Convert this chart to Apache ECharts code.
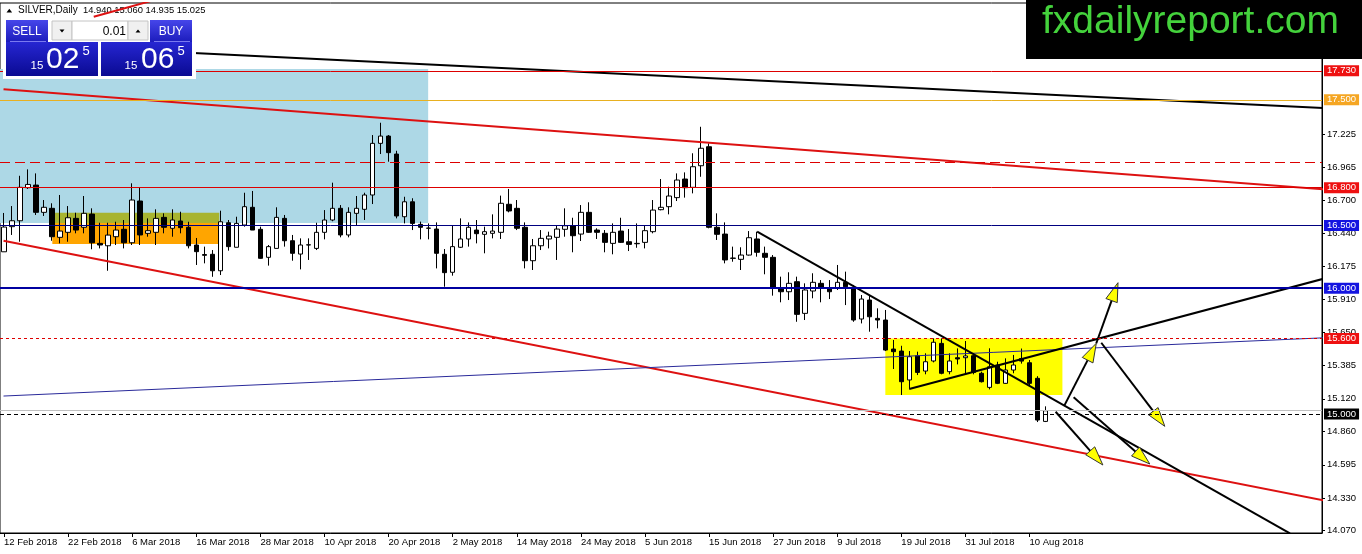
<!DOCTYPE html>
<html><head><meta charset="utf-8">
<script src="https://cdn.jsdelivr.net/npm/echarts@6/dist/echarts.min.js"></script>
<style>html,body{margin:0;padding:0;background:#fff}#c{width:1362px;height:554px}</style>
</head><body><div id="c"></div>
<script>
// ---------- data ----------
// [open, close, low, high] per daily bar, starting 12 Feb 2018
const candles = [
[16.290,16.487,16.290,16.599],[16.490,16.537,16.424,16.654],[16.537,16.803,16.370,16.895],[16.800,16.826,16.790,16.946],
[16.821,16.604,16.583,16.914],[16.604,16.644,16.575,16.702],[16.636,16.410,16.378,16.676],[16.405,16.455,16.357,16.742],
[16.445,16.561,16.370,16.654],[16.556,16.463,16.437,16.601],[16.485,16.596,16.437,16.734],[16.590,16.362,16.310,16.636],
[16.357,16.344,16.317,16.521],[16.338,16.423,16.139,16.521],[16.410,16.463,16.344,16.529],[16.469,16.362,16.317,16.543],
[16.362,16.702,16.344,16.835],[16.694,16.424,16.344,16.803],[16.437,16.458,16.410,16.556],[16.445,16.556,16.344,16.628],
[16.564,16.485,16.437,16.596],[16.477,16.543,16.410,16.628],[16.535,16.482,16.437,16.609],[16.485,16.338,16.317,16.529],
[16.344,16.291,16.185,16.400],[16.268,16.262,16.198,16.331],[16.270,16.139,16.091,16.304],[16.139,16.529,16.105,16.617],
[16.521,16.331,16.299,16.543],[16.326,16.516,16.326,16.569],[16.503,16.649,16.490,16.760],[16.644,16.463,16.463,16.774],
[16.469,16.238,16.235,16.490],[16.246,16.331,16.180,16.344],[16.317,16.564,16.317,16.644],[16.556,16.378,16.331,16.583],
[16.378,16.278,16.219,16.424],[16.272,16.344,16.150,16.397],[16.344,16.346,16.225,16.397],[16.317,16.445,16.304,16.521],
[16.445,16.543,16.389,16.622],[16.543,16.636,16.533,16.840],[16.636,16.424,16.405,16.662],[16.424,16.604,16.405,16.644],
[16.596,16.636,16.503,16.734],[16.628,16.742,16.543,16.760],[16.742,17.153,16.670,17.219],[17.153,17.211,17.068,17.317],
[17.211,17.079,17.007,17.219],[17.068,16.575,16.556,17.094],[16.569,16.688,16.516,16.728],[16.688,16.516,16.463,16.716],
[16.508,16.485,16.389,16.530],[16.477,16.479,16.389,16.516],[16.471,16.278,16.158,16.524],[16.270,16.124,16.012,16.312],
[16.127,16.331,16.100,16.497],[16.326,16.392,16.320,16.556],[16.392,16.485,16.331,16.524],[16.463,16.434,16.357,16.543],
[16.429,16.450,16.278,16.490],[16.437,16.455,16.397,16.588],[16.445,16.676,16.392,16.737],[16.668,16.615,16.604,16.790],
[16.636,16.477,16.463,16.702],[16.485,16.219,16.158,16.524],[16.219,16.338,16.145,16.392],[16.338,16.397,16.304,16.463],
[16.392,16.415,16.317,16.450],[16.405,16.471,16.225,16.503],[16.469,16.497,16.410,16.636],[16.497,16.418,16.286,16.561],
[16.431,16.604,16.376,16.662],[16.604,16.445,16.440,16.684],[16.463,16.445,16.392,16.477],[16.437,16.365,16.286,16.463],
[16.357,16.445,16.270,16.516],[16.455,16.365,16.360,16.561],[16.370,16.349,16.296,16.471],[16.354,16.357,16.322,16.516],
[16.365,16.458,16.317,16.503],[16.450,16.622,16.437,16.702],[16.625,16.644,16.620,16.869],[16.649,16.734,16.588,16.808],
[16.721,16.861,16.694,16.914],[16.869,16.800,16.721,16.922],[16.803,16.967,16.755,17.074],[16.975,17.114,16.887,17.285],
[17.126,16.485,16.477,17.153],[16.485,16.429,16.384,16.596],[16.431,16.225,16.198,16.524],[16.240,16.238,16.211,16.331],
[16.230,16.264,16.145,16.326],[16.264,16.402,16.260,16.455],[16.392,16.286,16.251,16.450],[16.278,16.246,16.111,16.331],
[16.246,16.000,15.941,16.264],[16.000,15.972,15.888,16.092],[15.972,16.039,15.906,16.127],[16.052,15.792,15.733,16.092],
[15.800,15.986,15.747,16.039],[15.978,16.047,15.920,16.119],[16.039,16.004,15.888,16.065],[16.004,15.972,15.914,16.065],
[16.004,16.047,15.986,16.185],[16.047,16.012,15.866,16.132],[16.000,15.747,15.733,16.026],[15.755,15.914,15.720,15.946],
[15.906,15.773,15.654,15.946],[15.760,15.747,15.681,15.840],[15.747,15.508,15.500,15.827],[15.516,15.495,15.357,15.588],
[15.500,15.256,15.150,15.542],[15.270,15.455,15.203,15.500],[15.463,15.330,15.309,15.495],[15.341,15.415,15.315,15.482],
[15.421,15.570,15.410,15.601],[15.561,15.323,15.315,15.601],[15.336,15.421,15.315,15.482],[15.447,15.437,15.394,15.521],
[15.447,15.461,15.315,15.580],[15.463,15.330,15.315,15.482],[15.323,15.256,15.250,15.336],[15.211,15.375,15.195,15.522],
[15.389,15.243,15.237,15.415],[15.243,15.349,15.240,15.442],[15.349,15.389,15.323,15.469],[15.440,15.420,15.400,15.520],
[15.407,15.243,15.230,15.429],[15.283,14.951,14.935,15.300],[14.940,15.025,14.935,15.060]
];
const dateTickLabels = ['12 Feb 2018','22 Feb 2018','6 Mar 2018','16 Mar 2018','28 Mar 2018','10 Apr 2018','20 Apr 2018',
  '2 May 2018','14 May 2018','24 May 2018','5 Jun 2018','15 Jun 2018','27 Jun 2018','9 Jul 2018','19 Jul 2018','31 Jul 2018','10 Aug 2018'];
const yTickValues = [17.225,16.965,16.700,16.440,16.175,15.910,15.650,15.385,15.120,14.860,14.595,14.330,14.070];
// horizontal price levels
const levelValues = [17.730,17.500,17.000,16.800,16.500,16.000,15.600,15.000,15.025];
// trend lines: [barIndex1, price1, barIndex2, price2]
const trendLines = [
  [-0.06,17.946,164.9,17.434],
  [-0.06,17.583,164.9,16.786],
  [-0.06,16.378,164.9,14.309],
  [-0.06,15.142,164.9,15.606],
  [94.0,16.450,160.5,14.049],
  [112.98,15.198,164.9,16.079],
  [11.2,18.161,18.3,18.285]
];
// rectangles: [barIndex1, price1, barIndex2, price2]
const zones = [
  [-0.5,17.745,52.94,16.520],
  [6.03,16.601,26.87,16.520],
  [6.03,16.520,26.87,16.352],
  [110.0,15.600,132.1,15.150]
];
// arrows: [barIndex1, price1, barIndex2, price2]
const arrows = [
  [132.37,15.070,136.33,15.562],
  [136.33,15.562,139.04,16.044],
  [136.95,15.566,144.88,14.901],
  [131.25,15.017,137.15,14.593],
  [133.50,15.132,143.01,14.601]
];
const headerQuote = [14.940,15.060,14.935,15.025];
const bidPrice = '15.025', askPrice = '15.065', lotSize = '0.01';

// ---------- categories (trading days) ----------
const dates = [];
(function(){
  const m=['Jan','Feb','Mar','Apr','May','Jun','Jul','Aug','Sep','Oct','Nov','Dec'];
  let t = Date.UTC(2018,1,12);
  while (dates.length < 165) {
    const d = new Date(t), wd = d.getUTCDay();
    const s = d.getUTCDate()+' '+m[d.getUTCMonth()]+' '+d.getUTCFullYear();
    if (wd!==0 && wd!==6 && s!=='30 Mar 2018') dates.push(s);
    t += 86400000;
  }
})();
const tickSet = new Set(dateTickLabels);

// ---------- styles ----------
const levelStyle = [
  {c:'#dd0000',t:'solid',w:1,bg:'#ee1111',lab:true},
  {c:'#e8b020',t:'solid',w:1,bg:'#f5a623',lab:true},
  {c:'#dd0000',t:[10,5],w:1,lab:false},
  {c:'#dd0000',t:'solid',w:1,bg:'#ee1111',lab:true},
  {c:'#000080',t:'solid',w:1,bg:'#1414e0',lab:true},
  {c:'#0000a0',t:'solid',w:2,bg:'#1414e0',lab:true},
  {c:'#dd0000',t:[3,3],w:1,bg:'#ee1111',lab:true},
  {c:'#000000',t:[4,3],w:1,bg:'#000000',lab:true},
  {c:'#c0c0c0',t:'solid',w:1,lab:false}
];
const trendStyle = [
  {c:'#000',w:2},{c:'#dd1111',w:2},{c:'#dd1111',w:2},{c:'#2a2a9a',w:1},{c:'#000',w:2},{c:'#000',w:2},{c:'#dd1111',w:2}
];
const zoneColors = ['#add8e6','#a8b430','#ffa500','#ffff00'];
const FONT = '"Liberation Sans", Arial, sans-serif';

const chart = echarts.init(document.getElementById('c'), null, {renderer:'canvas'});

const series = [];
series.push({
  type:'custom', xAxisIndex:1, yAxisIndex:0, z:1, silent:true, animation:false,
  data: zones, encode:{x:[0,2], y:[1,3]},
  renderItem:(params, api)=>{
    const p1 = api.coord([api.value(0), api.value(1)]);
    const p2 = api.coord([api.value(2), api.value(3)]);
    return {type:'rect', shape:{x:Math.min(p1[0],p2[0]), y:Math.min(p1[1],p2[1]),
      width:Math.abs(p2[0]-p1[0]), height:Math.abs(p2[1]-p1[1])},
      style:{fill: zoneColors[params.dataIndex]}};
  }
});
series.push({
  type:'candlestick', xAxisIndex:0, yAxisIndex:0, z:2, barWidth:5, silent:true, animation:false,
  data: candles,
  itemStyle:{color:'#ffffff', color0:'#000000', borderColor:'#000000', borderColor0:'#000000', borderColorDoji:'#000000', borderWidth:1},
  markLine:{
    symbol:['none','none'], silent:true, animation:false,
    data: levelValues.map((v,i)=>({
      yAxis:v,
      lineStyle:{color:levelStyle[i].c, type:levelStyle[i].t, width:levelStyle[i].w},
      label: levelStyle[i].lab ? {show:true, position:'end', distance:2, formatter: v.toFixed(3),
        color:'#fff', backgroundColor:levelStyle[i].bg, padding:[1,3,0,3], fontSize:9.5, fontFamily:FONT} : {show:false}
    }))
  }
});
trendLines.forEach((t,i)=>{
  series.push({type:'line', xAxisIndex:1, yAxisIndex:0, z:3, silent:true, animation:false, clip:true,
    data:[[t[0],t[1]],[t[2],t[3]]], symbol:'none',
    lineStyle:{color:trendStyle[i].c, width:trendStyle[i].w}});
});
series.push({
  type:'custom', xAxisIndex:1, yAxisIndex:0, z:4, silent:true, animation:false,
  data: arrows, encode:{x:[0,2], y:[1,3]},
  renderItem:(params, api)=>{
    const a = api.coord([api.value(0), api.value(1)]);
    const b = api.coord([api.value(2), api.value(3)]);
    const dx=b[0]-a[0], dy=b[1]-a[1], L=Math.hypot(dx,dy), ux=dx/L, uy=dy/L;
    const hl=19, hw=6;
    const bx=b[0]-ux*hl, by=b[1]-uy*hl;
    return {type:'group', children:[
      {type:'line', shape:{x1:a[0],y1:a[1],x2:bx+ux*4,y2:by+uy*4}, style:{stroke:'#000', lineWidth:2}},
      {type:'polygon', shape:{points:[[b[0],b[1]],[bx-uy*hw,by+ux*hw],[bx+uy*hw,by-ux*hw]]},
        style:{fill:'#ffff00', stroke:'#333', lineWidth:1}}
    ]};
  }
});

// ---------- graphics (terminal UI) ----------
const btnGrad = {type:'linear',x:0,y:0,x2:0,y2:1,colorStops:[{offset:0,color:'#4646ea'},{offset:1,color:'#1c1cbc'}]};
const boxGrad = {type:'linear',x:0,y:0,x2:0,y2:1,colorStops:[{offset:0,color:'#2626d2'},{offset:1,color:'#0a0a92'}]};
// y given as text baseline; converted to a middle anchor
const txt = (x,yBase,text,size,fill,align,z)=>({type:'text', x:x, y:yBase-0.35*size, z:z||101,
  style:{text:text, font:size+'px '+FONT, fill:fill, align:align||'left', verticalAlign:'middle'}});
const bidParts = [bidPrice.slice(0,2), bidPrice.slice(3,5), bidPrice.slice(5)];
const askParts = [askPrice.slice(0,2), askPrice.slice(3,5), askPrice.slice(5)];
const graphic = [
  {type:'polygon', z:1, shape:{points:[[6.5,12.5],[9.3,8.8],[12.1,12.5]]}, style:{fill:'#000'}},
  txt(18,14,'SILVER,Daily',10,'#000','left',1),
  txt(83,14,headerQuote.map(v=>v.toFixed(3)).join(' '),9.4,'#000','left',1),
  {type:'rect', z:100, shape:{x:3,y:18,width:193,height:61}, style:{fill:'#fff'}},
  {type:'rect', z:100, shape:{x:6,y:20,width:42,height:22}, style:{fill:btnGrad}},
  {type:'rect', z:100, shape:{x:150,y:20,width:42,height:22}, style:{fill:btnGrad}},
  {type:'rect', z:100, shape:{x:52,y:21,width:20,height:19}, style:{fill:'#f0f0f0', stroke:'#c4c4c4', lineWidth:1}},
  {type:'rect', z:100, shape:{x:72,y:21,width:56,height:19}, style:{fill:'#ffffff', stroke:'#c4c4c4', lineWidth:1}},
  {type:'rect', z:100, shape:{x:128,y:21,width:20,height:19}, style:{fill:'#f0f0f0', stroke:'#c4c4c4', lineWidth:1}},
  {type:'polygon', z:101, shape:{points:[[59.5,29.5],[64.5,29.5],[62,32.5]]}, style:{fill:'#000'}},
  {type:'polygon', z:101, shape:{points:[[135.5,32.5],[140.5,32.5],[138,29.5]]}, style:{fill:'#000'}},
  {type:'rect', z:100, shape:{x:6,y:42,width:92,height:34}, style:{fill:boxGrad}},
  {type:'rect', z:100, shape:{x:101,y:42,width:91,height:34}, style:{fill:boxGrad}},
  {type:'line', z:101, shape:{x1:10,y1:41.5,x2:46,y2:41.5}, style:{stroke:'#7a7af0', lineWidth:1}},
  {type:'line', z:101, shape:{x1:154,y1:41.5,x2:190,y2:41.5}, style:{stroke:'#7a7af0', lineWidth:1}},
  txt(27,35.5,'SELL',12,'#fff','center'),
  txt(171,35.5,'BUY',12,'#fff','center'),
  txt(126,35.5,lotSize,12,'#000','right'),
  txt(30.5,70,bidParts[0],11.5,'#fff','left'),
  txt(46,70,bidParts[1],30,'#fff','left'),
  txt(82.5,56,bidParts[2],13,'#fff','left'),
  txt(124.5,70,askParts[0],11.5,'#fff','left'),
  txt(141,70,askParts[1],30,'#fff','left'),
  txt(177.5,56,askParts[2],13,'#fff','left'),
  {type:'rect', z:100, shape:{x:1026,y:0,width:336,height:59}, style:{fill:'#000'}},
  txt(1042,36,'fxdailyreport.com',39,'#44d23c','left')
];

chart.setOption({
  animation:false,
  backgroundColor:'#fff',
  grid:{left:0, right:40, top:3, bottom:21, show:true, borderColor:'#000', borderWidth:1, backgroundColor:'#fff'},
  xAxis:[
    {type:'category', data:dates, boundaryGap:true,
     axisLine:{show:true, onZero:false, lineStyle:{color:'#000', width:1}},
     axisTick:{show:true, alignWithLabel:true, length:4, interval:(i,v)=>tickSet.has(v), lineStyle:{color:'#000'}},
     axisLabel:{show:true, interval:(i,v)=>tickSet.has(v), align:'left', color:'#000', fontSize:9.5, fontFamily:FONT, margin:4},
     splitLine:{show:false}},
    {type:'value', min:-0.5, max:164.5, show:false}
  ],
  yAxis:[{type:'value', position:'right', min:14.052, max:18.270,
    axisLine:{show:true, onZero:false, lineStyle:{color:'#000', width:1}},
    axisTick:{show:true, length:3, customValues:yTickValues, lineStyle:{color:'#000'}},
    axisLabel:{show:true, customValues:yTickValues, formatter:(v)=>Number(v).toFixed(3), color:'#000', fontSize:9.5, fontFamily:FONT, margin:5},
    splitLine:{show:false}}],
  series: series,
  graphic: graphic
});
</script></body></html>
